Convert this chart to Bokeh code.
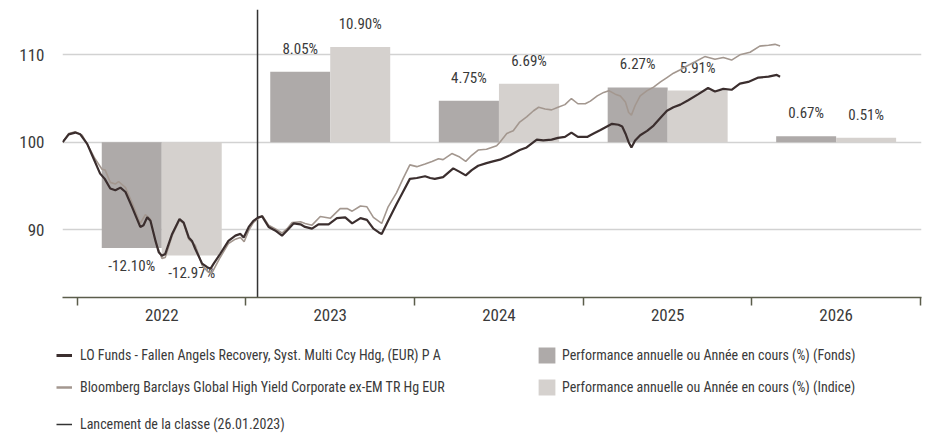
import pandas as pd
from bokeh.plotting import figure
from bokeh.layouts import column, row
from bokeh.models import (FixedTicker, Legend, LegendItem, ColumnDataSource,
                          Range1d, CustomJSTickFormatter)
from bokeh.core.properties import value
from bokeh.embed import file_html
from bokeh.resources import INLINE

# ---------------- data ----------------
fund_dates = [
    "2021-11-30", "2021-12-13", "2021-12-27",
    "2022-01-07", "2022-01-22", "2022-02-05", "2022-02-19", "2022-03-01", "2022-03-13",
    "2022-03-24", "2022-04-04", "2022-04-15", "2022-04-29", "2022-05-17", "2022-05-24",
    "2022-06-01", "2022-06-08", "2022-06-19", "2022-06-26", "2022-07-03", "2022-07-10",
    "2022-07-25", "2022-08-10", "2022-08-19", "2022-08-30", "2022-09-06", "2022-09-13",
    "2022-09-28", "2022-10-09", "2022-10-16", "2022-10-23", "2022-11-06", "2022-11-24",
    "2022-12-09", "2022-12-20", "2022-12-27",
    "2023-01-07", "2023-01-17", "2023-01-28", "2023-02-05", "2023-02-19", "2023-03-05",
    "2023-03-20", "2023-03-31", "2023-04-14", "2023-04-29", "2023-05-09", "2023-05-24",
    "2023-06-07", "2023-06-29", "2023-07-17", "2023-08-04", "2023-08-19", "2023-09-06",
    "2023-09-20", "2023-10-04", "2023-10-15", "2023-10-22", "2023-11-05", "2023-11-23",
    "2023-12-07", "2023-12-22",
    "2024-01-06", "2024-01-24", "2024-02-04", "2024-02-14", "2024-03-03", "2024-03-25",
    "2024-04-08", "2024-04-21", "2024-05-04", "2024-05-18", "2024-06-05", "2024-06-19",
    "2024-07-04", "2024-07-26", "2024-08-16", "2024-08-31", "2024-09-22", "2024-10-06",
    "2024-10-24", "2024-11-07", "2024-11-22", "2024-12-06", "2024-12-20",
    "2025-01-09", "2025-01-23", "2025-02-07", "2025-02-21", "2025-03-04", "2025-03-18",
    "2025-03-26", "2025-04-02", "2025-04-09", "2025-04-15", "2025-04-23", "2025-05-04",
    "2025-05-19", "2025-06-02", "2025-06-17", "2025-07-01", "2025-07-15", "2025-07-30",
    "2025-08-16", "2025-09-07", "2025-09-28", "2025-10-13", "2025-10-31", "2025-11-18",
    "2025-12-06", "2025-12-24",
    "2026-01-15", "2026-02-06", "2026-02-24", "2026-03-03",
]
fund_values = [
    100.0, 100.9, 101.1,
    100.9, 99.8, 98.1, 96.4, 95.8, 94.7, 94.5, 94.8, 94.3, 92.6, 90.3, 90.5,
    91.4, 91.0, 88.7, 87.4, 87.0, 87.2, 89.5, 91.2, 90.8, 89.1, 88.7, 87.8,
    86.1, 85.7, 85.5, 86.1, 87.2, 88.7, 89.3, 89.5, 89.1,
    90.3, 91.0, 91.4, 91.5, 90.3, 89.9, 89.3, 89.9, 90.7, 90.6, 90.3, 90.1,
    90.6, 90.6, 91.3, 91.4, 90.7, 91.3, 91.1, 90.1, 89.7, 89.5, 91.0, 92.9,
    94.3, 95.8,
    95.9, 96.1, 95.9, 95.8, 96.0, 97.0, 96.6, 96.2, 96.8, 97.3, 97.6, 97.8,
    98.0, 98.5, 99.1, 99.4, 100.3, 100.2, 100.3, 100.5, 100.6, 101.1, 100.6,
    100.6, 101.0, 101.4, 101.8, 102.1, 102.0, 101.8, 101.0, 100.0, 99.4, 100.2,
    100.8, 101.3, 101.9, 102.8, 103.6, 104.0, 104.3, 104.8, 105.5, 106.2, 105.8,
    106.1, 106.0, 106.7, 106.9,
    107.4, 107.5, 107.7, 107.5,
]

index_dates = [
    "2021-11-30", "2021-12-13", "2021-12-27",
    "2022-01-11", "2022-01-25", "2022-02-08", "2022-02-23", "2022-03-02", "2022-03-13",
    "2022-03-24", "2022-03-31", "2022-04-15", "2022-04-29", "2022-05-17", "2022-05-28",
    "2022-06-08", "2022-06-19", "2022-07-03", "2022-07-10", "2022-07-25", "2022-08-10",
    "2022-08-19", "2022-08-30", "2022-09-13", "2022-09-28", "2022-10-12", "2022-10-19",
    "2022-11-06", "2022-11-24", "2022-12-09", "2022-12-20", "2022-12-28",
    "2023-01-07", "2023-01-17", "2023-01-28", "2023-02-05", "2023-02-19", "2023-03-05",
    "2023-03-20", "2023-03-31", "2023-04-11", "2023-04-29", "2023-05-09", "2023-05-24",
    "2023-06-11", "2023-07-03", "2023-07-24", "2023-08-08", "2023-08-19", "2023-09-06",
    "2023-09-20", "2023-10-04", "2023-10-22", "2023-11-05", "2023-11-23", "2023-12-07",
    "2023-12-22",
    "2024-01-06", "2024-01-24", "2024-02-08", "2024-02-22", "2024-03-03", "2024-03-22",
    "2024-04-08", "2024-04-21", "2024-05-04", "2024-05-18", "2024-06-05", "2024-06-27",
    "2024-07-04", "2024-07-19", "2024-08-02", "2024-08-16", "2024-08-31", "2024-09-15",
    "2024-09-26", "2024-10-10", "2024-10-24", "2024-11-07", "2024-11-22", "2024-12-06",
    "2024-12-20",
    "2025-01-05", "2025-01-16", "2025-01-31", "2025-02-14", "2025-02-25", "2025-03-11",
    "2025-03-22", "2025-04-02", "2025-04-09", "2025-04-15", "2025-04-23", "2025-05-04",
    "2025-05-19", "2025-06-02", "2025-06-17", "2025-07-01", "2025-07-15", "2025-07-30",
    "2025-08-09", "2025-08-31", "2025-09-21", "2025-10-13", "2025-10-31", "2025-11-18",
    "2025-12-06", "2025-12-28",
    "2026-01-18", "2026-02-06", "2026-02-20", "2026-03-03",
]
index_values = [
    100.0, 101.0, 101.2,
    100.8, 99.5, 98.1, 96.9, 96.8, 95.4, 95.2, 95.5, 94.8, 93.1, 90.7, 91.7,
    91.2, 88.6, 86.7, 86.8, 89.3, 91.1, 90.7, 88.9, 88.2, 85.9, 85.1, 85.0,
    86.8, 88.4, 88.9, 89.1, 88.6,
    89.9, 90.8, 91.3, 91.6, 90.5, 90.1, 89.6, 90.1, 90.8, 90.9, 90.7, 90.5,
    91.5, 91.3, 92.4, 92.4, 92.1, 92.7, 92.6, 91.4, 90.7, 92.6, 94.2, 95.8,
    97.4,
    97.2, 97.5, 97.8, 98.1, 98.0, 98.7, 98.3, 97.8, 98.5, 99.1, 99.2, 99.6,
    100.0, 101.0, 101.3, 102.3, 102.9, 103.6, 104.0, 103.8, 103.7, 104.0, 104.3,
    105.0, 104.4,
    104.4, 104.7, 105.3, 105.7, 105.9, 105.5, 105.3, 104.6, 103.4, 103.1, 104.2,
    105.3, 105.9, 106.3, 106.9, 107.4, 107.9, 108.3, 108.6, 109.2, 109.8, 109.5,
    109.7, 109.4, 110.0, 110.3,
    111.0, 111.1, 111.2, 111.0,
]

years = [2022, 2023, 2024, 2025, 2026]
fund_perf = [-12.10, 8.05, 4.75, 6.27, 0.67]
index_perf = [-12.97, 10.90, 6.69, 5.91, 0.51]
launch_date = "2023-01-26"
y_ticks = [90, 100, 110]
base_level = 100.0

fund_label = "LO Funds - Fallen Angels Recovery, Syst. Multi Ccy Hdg, (EUR) P A"
index_label = "Bloomberg Barclays Global High Yield Corporate ex-EM TR Hg EUR"
fund_bar_label = "Performance annuelle ou Année en cours (%) (Fonds)"
index_bar_label = "Performance annuelle ou Année en cours (%) (Indice)"
launch_label = "Lancement de la classe (26.01.2023)"

# ---------------- styling ----------------
FONT = "Roboto Condensed, Roboto, sans-serif"
TXT = "#3a3a3a"
FUND_LINE = "#3b2e2e"
INDEX_LINE = "#a3978f"
FUND_BAR = "#aeaaa9"
INDEX_BAR = "#d5d1ce"
AXIS_COL = "#5b5d4b"
LAUNCH_COL = "#333333"


def ms(d):
    return pd.Timestamp(d).value / 1e6


fund_x = [ms(d) for d in fund_dates]
index_x = [ms(d) for d in index_dates]
year_starts = [ms(f"{y}-01-01") for y in years] + [ms(f"{years[-1] + 1}-01-01")]
year_mids = [(a + b) / 2 for a, b in zip(year_starts[:-1], year_starts[1:])]
year_len = [b - a for a, b in zip(year_starts[:-1], year_starts[1:])]
bar_w = [0.356 * L for L in year_len]
fund_bx = [m - w / 2 for m, w in zip(year_mids, bar_w)]
index_bx = [m + w / 2 for m, w in zip(year_mids, bar_w)]

day = 86400000.0
x_start = year_starts[0] - 32.5 * day
x_end = year_starts[-1] + 2.4 * day
y_start, y_end = 82.22, 115.19

W = 928
p = figure(width=W, height=330, output_backend="svg", toolbar_location=None,
           x_range=Range1d(x_start, x_end), y_range=Range1d(y_start, y_end),
           min_border_left=62, min_border_right=7, min_border_top=9,
           min_border_bottom=33)
p.outline_line_color = None

# bars
fund_src = ColumnDataSource(dict(x=fund_bx, w=bar_w, top=[base_level + v for v in fund_perf],
                                 bottom=[base_level] * len(years)))
index_src = ColumnDataSource(dict(x=index_bx, w=bar_w, top=[base_level + v for v in index_perf],
                                  bottom=[base_level] * len(years)))
p.vbar(x="x", width="w", top="top", bottom="bottom", source=fund_src,
       fill_color=FUND_BAR, line_color=None)
p.vbar(x="x", width="w", top="top", bottom="bottom", source=index_src,
       fill_color=INDEX_BAR, line_color=None)

# bar labels
lab_x = fund_bx + index_bx
lab_v = fund_perf + index_perf
lab_src = ColumnDataSource(dict(
    x=lab_x,
    y=[base_level + v for v in lab_v],
    text=[f"{v:.2f}%" for v in lab_v],
    off=[-23 if v >= 0 else 18 for v in lab_v],
))
p.text(x="x", y="y", text="text", y_offset="off", source=lab_src,
       text_align="center", text_baseline="middle", text_font=value(FONT),
       text_font_size="15px", text_color=TXT)

# launch line
lx = ms(launch_date)
p.segment(x0=[lx], y0=[y_start], x1=[lx], y1=[y_end],
          line_color=LAUNCH_COL, line_width=1.5)

# performance lines
p.line(index_x, index_values, line_color=INDEX_LINE, line_width=1.6)
p.line(fund_x, fund_values, line_color=FUND_LINE, line_width=2.2)

# axes
p.yaxis.ticker = FixedTicker(ticks=y_ticks)
p.yaxis.axis_line_color = None
p.yaxis.major_tick_line_color = None
p.yaxis.minor_tick_line_color = None
p.yaxis.major_tick_out = 0
p.yaxis.major_tick_in = 0
p.yaxis.major_label_standoff = 18
p.yaxis.major_label_text_font = FONT
p.yaxis.major_label_text_font_size = "17px"
p.yaxis.major_label_text_color = TXT

p.ygrid.grid_line_color = "#d2d2d2"
p.ygrid.grid_line_width = 1.6
p.xgrid.visible = False

p.xaxis.ticker = FixedTicker(ticks=year_mids, minor_ticks=year_starts)
p.xaxis.formatter = CustomJSTickFormatter(code="return String(new Date(tick).getUTCFullYear());")
p.xaxis.major_tick_line_color = None
p.xaxis.major_tick_out = 0
p.xaxis.major_tick_in = 0
p.xaxis.minor_tick_line_color = AXIS_COL
p.xaxis.minor_tick_line_width = 1.5
p.xaxis.minor_tick_out = 8
p.xaxis.minor_tick_in = 0
p.xaxis.axis_line_color = AXIS_COL
p.xaxis.axis_line_width = 1.5
p.xaxis.major_label_standoff = 3
p.xaxis.major_label_text_font = FONT
p.xaxis.major_label_text_font_size = "17px"
p.xaxis.major_label_text_color = TXT

# ---------------- legend strip below the chart ----------------
LH = 104
lg = figure(width=W, height=LH, output_backend="svg", toolbar_location=None,
            x_range=Range1d(0, W), y_range=Range1d(0, LH),
            x_axis_location=None, y_axis_location=None,
            min_border_left=0, min_border_right=0, min_border_top=0, min_border_bottom=0)
lg.outline_line_color = None
lg.grid.visible = False

nan = float("nan")
k_fund = lg.line([nan], [nan], line_color=FUND_LINE, line_width=3)
k_index = lg.line([nan], [nan], line_color=INDEX_LINE, line_width=2.5)
k_launch = lg.line([nan], [nan], line_color=LAUNCH_COL, line_width=1.5)
k_fbar = lg.vbar(x=[nan], top=[nan], width=1, fill_color=FUND_BAR, line_color=None)
k_ibar = lg.vbar(x=[nan], top=[nan], width=1, fill_color=INDEX_BAR, line_color=None)


def add_leg(label, rend, loc, gw, standoff):
    leg = Legend(items=[LegendItem(label=label, renderers=[rend])], location=loc,
                 padding=0, margin=0, border_line_color=None, background_fill_alpha=0,
                 glyph_width=gw, glyph_height=20, label_height=20, label_standoff=standoff,
                 label_text_font=FONT, label_text_font_size="14px",
                 label_text_color=TXT, spacing=0)
    lg.add_layout(leg)


add_leg(fund_label, k_fund, (56, 69), 16, 8)
add_leg(index_label, k_index, (56, 37), 16, 8)
add_leg(launch_label, k_launch, (56, 0), 16, 8)
add_leg(fund_bar_label, k_fbar, (536, 69), 21, 5)
add_leg(index_bar_label, k_ibar, (536, 37), 21, 5)

layout = column(p, row(lg), spacing=0)
open("out.html", "w").write(file_html(layout, INLINE))
